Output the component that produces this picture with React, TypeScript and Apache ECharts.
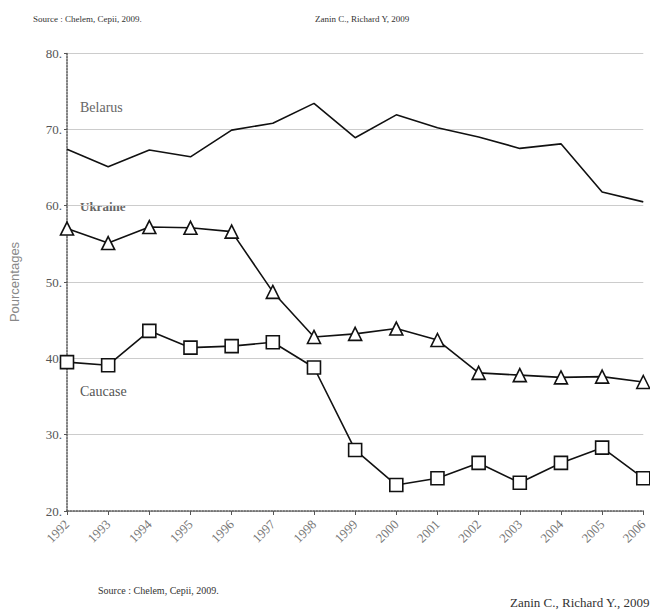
import React, { useEffect, useRef } from "react";
import * as echarts from "echarts";

const years = ["1992","1993","1994","1995","1996","1997","1998","1999","2000","2001","2002","2003","2004","2005","2006"];
const belarus = [67.4, 65.1, 67.3, 66.4, 69.9, 70.8, 73.4, 68.9, 71.9, 70.2, 69.0, 67.5, 68.1, 61.8, 60.5];
const ukraine = [57.0, 55.1, 57.2, 57.1, 56.6, 48.7, 42.8, 43.2, 43.9, 42.4, 38.1, 37.8, 37.5, 37.6, 36.9];
const caucase = [39.5, 39.1, 43.6, 41.4, 41.6, 42.1, 38.8, 28.0, 23.4, 24.3, 26.3, 23.7, 26.3, 28.3, 24.3];

const serif = "'Liberation Serif', 'DejaVu Serif', serif";

export default function App() {
  const ref = useRef<HTMLDivElement>(null);
  useEffect(() => {
    const chart = echarts.init(ref.current!, null, { renderer: "svg" });
    chart.setOption({
      animation: false,
      backgroundColor: "#fff",
      grid: { left: 66, right: 2, top: 53, bottom: 99, containLabel: false },
      xAxis: {
        type: "category",
        data: years,
        boundaryGap: false,
        axisLine: { lineStyle: { color: "#555", type: "dotted", width: 1.5 } },
        axisTick: { show: true, length: 4, alignWithLabel: true, lineStyle: { color: "#555" } },
        axisLabel: { rotate: 45, fontFamily: serif, fontSize: 13, color: "#777", margin: 11, interval: 0 },
        splitLine: { show: false },
      },
      yAxis: {
        type: "value",
        min: 20,
        max: 80,
        interval: 10,
        name: "Pourcentages",
        nameLocation: "middle",
        nameGap: 46,
        nameTextStyle: { fontFamily: "'Liberation Sans', Arial, sans-serif", fontSize: 13, color: "#888" },
        axisLine: { show: true, lineStyle: { color: "#555", type: "dotted", width: 1.5 } },
        axisTick: { show: true, length: 3, lineStyle: { color: "#555" } },
        axisLabel: { fontFamily: serif, fontSize: 13, color: "#555", margin: 5, formatter: (v: number) => v + "." },
        splitLine: { show: true, lineStyle: { color: "#ccc", width: 1 } },
      },
      series: [
        {
          name: "Belarus",
          type: "line",
          data: belarus,
          showSymbol: false,
          symbol: "none",
          lineStyle: { color: "#111", width: 1.6 },
        },
        {
          name: "Ukraine",
          type: "line",
          data: ukraine,
          symbol: "triangle",
          symbolSize: 13,
          lineStyle: { color: "#111", width: 1.6 },
          itemStyle: { color: "#fff", borderColor: "#111", borderWidth: 1.6 },
        },
        {
          name: "Caucase",
          type: "line",
          data: caucase,
          symbol: "rect",
          symbolSize: 13,
          lineStyle: { color: "#111", width: 1.6 },
          itemStyle: { color: "#fff", borderColor: "#111", borderWidth: 1.6 },
        },
      ],
      graphic: [
        { type: "text", left: 33, top: 14, style: { text: "Source : Chelem, Cepii, 2009.", font: `9px ${serif}`, fill: "#333" } },
        { type: "text", left: 315, top: 14, style: { text: "Zanin C., Richard Y, 2009", font: `9px ${serif}`, fill: "#333" } },
        { type: "text", left: 80, top: 100, style: { text: "Belarus", font: `14px ${serif}`, fill: "#666" } },
        { type: "text", left: 80, top: 200, style: { text: "Ukraine", font: `bold 13px ${serif}`, fill: "#666" } },
        { type: "text", left: 80, top: 384, style: { text: "Caucase", font: `14px ${serif}`, fill: "#555" } },
        { type: "text", left: 98, top: 585, style: { text: "Source : Chelem, Cepii, 2009.", font: `10px ${serif}`, fill: "#333" } },
        { type: "text", x: 510, y: 596, style: { text: "Zanin C., Richard Y., 2009", font: `13px ${serif}`, fill: "#333" } },
      ],
    });
    return () => chart.dispose();
  }, []);
  return <div ref={ref} style={{ width: 650, height: 610, position: "absolute", left: 0, top: 0 }} />;
}
